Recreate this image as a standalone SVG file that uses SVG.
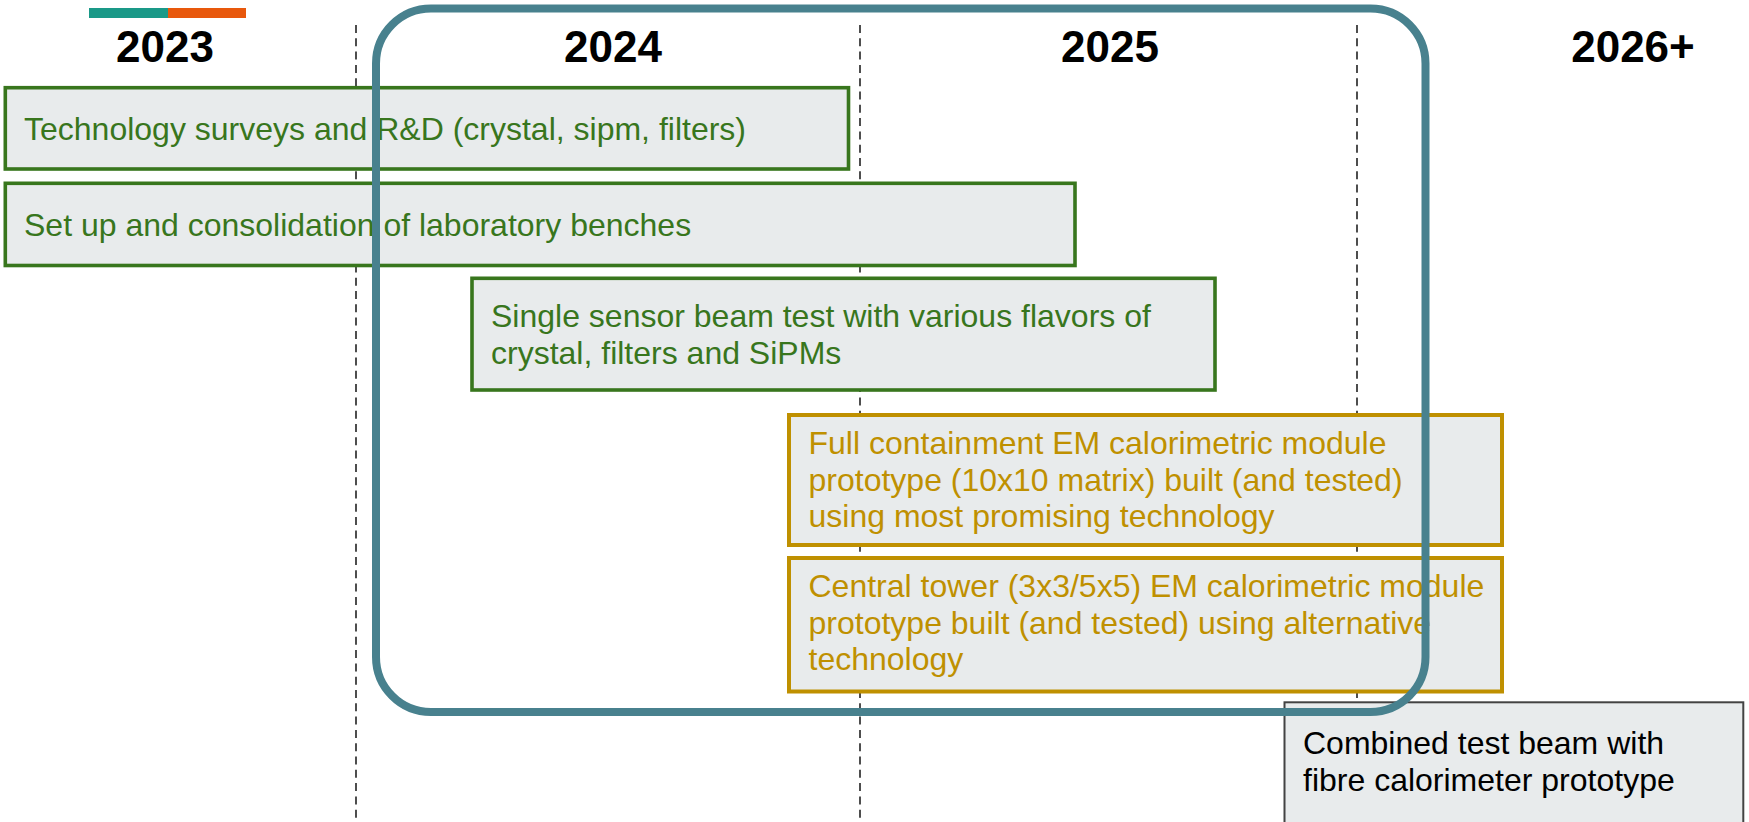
<svg xmlns="http://www.w3.org/2000/svg" width="1749" height="822" viewBox="0 0 1749 822">
  <style>
    text { font-family: "Liberation Sans", Arial, sans-serif; }
    .year { font-size: 44px; font-weight: bold; fill: #000; text-anchor: middle; }
    .grid { stroke: #222; stroke-width: 1.6; stroke-dasharray: 8 5.3; fill: none; }
    .task { fill: #e8ebec; }
    .green { stroke: #38761d; stroke-width: 3.6; }
    .gold { stroke: #bf9000; stroke-width: 4; }
    .gray { stroke: #434343; stroke-width: 2; }
    .label { font-size: 32px; }
    .tg { fill: #38761d; }
    .to { fill: #bf9000; }
    .tk { fill: #000; }
    .focus { fill: none; stroke: #48818e; stroke-width: 8; }
  </style>

  <!-- legend strip -->
  <rect x="89" y="8" width="79" height="10" fill="#1a9988"/>
  <rect x="168" y="8" width="78" height="10" fill="#e8580c"/>

  <!-- year headings -->
  <text class="year" x="165" y="62">2023</text>
  <text class="year" x="613" y="62">2024</text>
  <text class="year" x="1110" y="62">2025</text>
  <text class="year" x="1633" y="62">2026+</text>

  <!-- year separators -->
  <g id="separators">
    <line class="grid" x1="356" y1="25" x2="356" y2="822"/>
    <line class="grid" x1="860" y1="25" x2="860" y2="822"/>
    <line class="grid" x1="1357" y1="25" x2="1357" y2="822"/>
  </g>

  <g id="task-survey">
    <rect class="task green" x="5.3" y="87.7" width="843.2" height="81.3"/>
    <text class="label tg" x="24" y="140">Technology surveys and R&amp;D (crystal, sipm, filters)</text>
  </g>

  <g id="task-benches">
    <rect class="task green" x="5.3" y="183.3" width="1069.7" height="82.2"/>
    <text class="label tg" x="24" y="235.6">Set up and consolidation of laboratory benches</text>
  </g>

  <g id="task-single-sensor">
    <rect class="task green" x="472" y="278.3" width="743" height="111.7"/>
    <text class="label tg" x="491" y="327">Single sensor beam test with various flavors of</text>
    <text class="label tg" x="491" y="363.5">crystal, filters and SiPMs</text>
  </g>

  <g id="task-full-containment">
    <rect class="task gold" x="789" y="415" width="713" height="130"/>
    <text class="label to" x="808.5" y="454">Full containment EM calorimetric module</text>
    <text class="label to" x="808.5" y="490.7">prototype (10x10 matrix) built (and tested)</text>
    <text class="label to" x="808.5" y="527.3">using most promising technology</text>
  </g>

  <g id="task-central-tower">
    <rect class="task gold" x="789" y="558" width="713" height="133.5"/>
    <text class="label to" x="808.5" y="597">Central tower (3x3/5x5) EM calorimetric module</text>
    <text class="label to" x="808.5" y="633.7">prototype built (and tested) using alternative</text>
    <text class="label to" x="808.5" y="670.4">technology</text>
  </g>

  <g id="task-combined-beam">
    <rect class="task gray" x="1284.5" y="702.3" width="458.8" height="140"/>
    <text class="label tk" x="1303" y="754.3">Combined test beam with</text>
    <text class="label tk" x="1303" y="791">fibre calorimeter prototype</text>
  </g>

  <!-- highlighted period frame -->
  <g id="focus-frame">
    <rect class="focus" x="376" y="8.5" width="1049.5" height="703.5" rx="55" ry="55"/>
  </g>
</svg>
